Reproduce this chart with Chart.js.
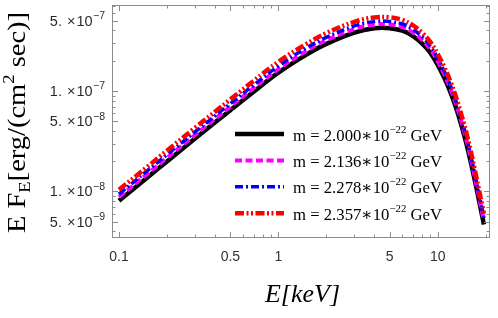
<!DOCTYPE html>
<html>
<head>
<meta charset="utf-8">
<script src="https://cdn.jsdelivr.net/npm/chart.js@4.4.1/dist/chart.umd.min.js"></script>
<style>
  html, body { margin: 0; padding: 0; background: #fff; }
</style>
</head>
<body>
<canvas id="spectrum" width="498" height="318"></canvas>
<script>
// photon energy grid (keV) and E*F_E for the four masses
const energyKeV = [0.1, 0.15, 0.2, 0.3, 0.5, 0.7, 1, 1.5, 2, 3, 4, 5, 6, 7, 8, 9, 10, 11, 12, 13, 14, 15, 16, 17, 18, 19, 19.5];
const fluxM2000 = [8.1e-9, 1.37e-8, 1.99e-8, 3.36e-8, 6.44e-8, 9.83e-8, 1.52e-7, 2.30e-7, 2.94e-7, 3.81e-7, 4.21e-7, 4.22e-7, 3.98e-7, 3.52e-7, 2.96e-7, 2.39e-7, 1.82e-7, 1.35e-7, 9.8e-8, 6.9e-8, 4.72e-8, 3.16e-8, 2.07e-8, 1.34e-8, 8.7e-9, 5.74e-9, 4.69e-9];
const fluxM2136 = [8.8e-9, 1.49e-8, 2.16e-8, 3.65e-8, 6.99e-8, 1.067e-7, 1.65e-7, 2.5e-7, 3.19e-7, 4.13e-7, 4.57e-7, 4.58e-7, 4.32e-7, 3.82e-7, 3.21e-7, 2.59e-7, 1.97e-7, 1.46e-7, 1.06e-7, 7.5e-8, 5.12e-8, 3.43e-8, 2.25e-8, 1.45e-8, 9.4e-9, 6.2e-9, 5.1e-9];
const fluxM2278 = [9.4e-9, 1.6e-8, 2.32e-8, 3.91e-8, 7.5e-8, 1.145e-7, 1.77e-7, 2.68e-7, 3.42e-7, 4.44e-7, 4.9e-7, 4.92e-7, 4.64e-7, 4.1e-7, 3.45e-7, 2.78e-7, 2.12e-7, 1.57e-7, 1.14e-7, 8.0e-8, 5.5e-8, 3.68e-8, 2.41e-8, 1.56e-8, 1.01e-8, 6.7e-9, 5.45e-9];
const fluxM2357 = [1.04e-8, 1.75e-8, 2.55e-8, 4.3e-8, 8.24e-8, 1.26e-7, 1.95e-7, 2.94e-7, 3.76e-7, 4.88e-7, 5.39e-7, 5.4e-7, 5.09e-7, 4.5e-7, 3.79e-7, 3.06e-7, 2.33e-7, 1.73e-7, 1.25e-7, 8.8e-8, 6.0e-8, 4.04e-8, 2.65e-8, 1.71e-8, 1.11e-8, 7.35e-9, 6.0e-9];
const massValues = ["2.000", "2.136", "2.278", "2.357"];

const xTickLabels = [0.1, 0.5, 1, 5, 10];
const xMinorTicks = [0.2, 0.3, 0.4, 0.6, 0.7, 0.8, 0.9, 2, 3, 4, 6, 7, 8, 9, 20];
const yTickLabels = [5e-9, 1e-8, 5e-8, 1e-7, 5e-7];
const yMinorTicks = [4e-9, 6e-9, 7e-9, 8e-9, 9e-9, 2e-8, 3e-8, 4e-8, 6e-8, 7e-8, 8e-8, 9e-8, 2e-7, 3e-7, 4e-7, 6e-7, 7e-7];

const seriesFlux = [fluxM2000, fluxM2136, fluxM2278, fluxM2357];
const seriesStyle = [
  { color: "#000000", width: 4.5, dash: [] },
  { color: "#ff00ff", width: 4, dash: [7, 3.5] },
  { color: "#0000ff", width: 3.5, dash: [8, 3, 2, 3] },
  { color: "#ff0000", width: 4.5, dash: [9, 2.5, 2, 2.5, 2, 2.5] }
];

const SERIF = "'Liberation Serif', 'DejaVu Serif', serif";
const SANS = "'Liberation Sans', Arial, sans-serif";

// draws pieces of text (sub/superscripts) along a line, squeezed to a target length
function drawRich(ctx, parts, x, y, angle, target) {
  ctx.save();
  ctx.translate(x, y);
  ctx.rotate(angle);
  let total = 0;
  parts.forEach(p => {
    ctx.font = `${p.italic ? "italic " : ""}${p.size}px ${p.family || SERIF}`;
    p.w = ctx.measureText(p.text).width + (p.gap || 0);
    total += p.w;
  });
  if (target) ctx.scale(target / total, 1);
  ctx.fillStyle = "#000";
  ctx.textBaseline = "alphabetic";
  let cx = 0;
  parts.forEach(p => {
    ctx.font = `${p.italic ? "italic " : ""}${p.size}px ${p.family || SERIF}`;
    ctx.fillText(p.text, cx, p.dy || 0);
    cx += p.w;
  });
  ctx.restore();
  return total;
}

function yLabelParts(v) {
  const exp = Math.floor(Math.log10(v) + 1e-9);
  const mant = Math.round(v / Math.pow(10, exp));
  return [
    { text: `${mant}.`, size: 14.5, family: SANS, gap: 5 },
    { text: "\u00D7", size: 14.5, family: SANS, gap: 1 },
    { text: "10", size: 14.5, family: SANS, gap: 0.5 },
    { text: `\u2212${Math.abs(exp)}`, size: 10.5, family: SANS, dy: -6.5 }
  ];
}

const framePlugin = {
  id: "frame",
  afterDraw(chart) {
    const { ctx, chartArea: a, scales: { x, y } } = chart;
    ctx.save();
    ctx.strokeStyle = "#8c8c8c";
    ctx.lineWidth = 1;
    ctx.setLineDash([]);
    ctx.strokeRect(a.left + 0.5, a.top + 0.5, a.right - a.left - 1, a.bottom - a.top - 1);
    ctx.beginPath();
    const xTick = (v, len) => {
      const px = Math.round(x.getPixelForValue(v)) + 0.5;
      ctx.moveTo(px, a.bottom); ctx.lineTo(px, a.bottom - len);
      ctx.moveTo(px, a.top); ctx.lineTo(px, a.top + len);
    };
    const yTick = (v, len) => {
      const py = Math.round(y.getPixelForValue(v)) + 0.5;
      ctx.moveTo(a.left, py); ctx.lineTo(a.left + len, py);
      ctx.moveTo(a.right, py); ctx.lineTo(a.right - len, py);
    };
    xTickLabels.forEach(v => xTick(v, 6));
    xMinorTicks.forEach(v => xTick(v, 3.5));
    yTickLabels.forEach(v => yTick(v, 6));
    yMinorTicks.forEach(v => yTick(v, 3.5));
    ctx.stroke();
    ctx.restore();

    // y tick labels with real superscripts, right aligned against the frame
    yTickLabels.forEach(v => {
      const parts = yLabelParts(v);
      ctx.save();
      let w = 0;
      parts.forEach(p => { ctx.font = `${p.size}px ${p.family}`; w += ctx.measureText(p.text).width + (p.gap || 0); });
      ctx.restore();
      ctx.save();
      ctx.globalAlpha = 0.85;
      drawRich(ctx, parts, a.left - 7 - w, y.getPixelForValue(v) + 5, 0);
      ctx.restore();
    });

    // axis titles
    drawRich(ctx, [
      { text: "E F", size: 26 },
      { text: "E", size: 17, dy: 5 },
      { text: "[erg/(cm", size: 26 },
      { text: "2", size: 17, dy: -11 },
      { text: " sec)]", size: 26 }
    ], 25, 233, -Math.PI / 2, 221);
    drawRich(ctx, [{ text: "E[keV]", size: 25, italic: true }], 265, 302, 0, 75);

    // legend
    seriesStyle.forEach((s, i) => {
      const ly = 134 + i * 26.4;
      ctx.save();
      ctx.strokeStyle = s.color;
      ctx.lineWidth = s.width;
      ctx.setLineDash(s.dash);
      ctx.beginPath();
      ctx.moveTo(235, ly);
      ctx.lineTo(284, ly);
      ctx.stroke();
      ctx.restore();
      drawRich(ctx, [
        { text: `m = ${massValues[i]}\u221710`, size: 17 },
        { text: "\u221222", size: 11, dy: -8 },
        { text: " GeV", size: 17 }
      ], 293, ly + 6.5, 0, 149);
    });
  }
};

new Chart(document.getElementById("spectrum"), {
  type: "line",
  data: {
    datasets: seriesFlux.map((flux, i) => ({
      label: `m = ${massValues[i]}*10^-22 GeV`,
      data: energyKeV.map((e, j) => ({ x: e, y: flux[j] })),
      borderColor: seriesStyle[i].color,
      borderWidth: seriesStyle[i].width,
      borderDash: seriesStyle[i].dash,
      pointRadius: 0,
      fill: false,
      tension: 0.4,
      order: seriesFlux.length - i
    }))
  },
  options: {
    responsive: false,
    devicePixelRatio: 1,
    animation: false,
    layout: { padding: { top: 5, right: 8, left: 0, bottom: 0 } },
    plugins: { legend: { display: false }, tooltip: { enabled: false } },
    scales: {
      x: {
        type: "logarithmic",
        min: 0.0904,
        max: 21.29,
        afterFit: s => { s.height = 80; },
        afterBuildTicks: s => { s.ticks = xTickLabels.map(v => ({ value: v })); },
        grid: { display: false, drawTicks: false },
        border: { display: false },
        ticks: {
          autoSkip: false,
          maxRotation: 0,
          padding: 11,
          color: "#333",
          font: { family: SANS, size: 14 },
          callback: v => String(v)
        }
      },
      y: {
        type: "logarithmic",
        min: 3.445e-9,
        max: 7.17e-7,
        afterFit: s => { s.width = 112; },
        afterBuildTicks: s => { s.ticks = yTickLabels.map(v => ({ value: v })); },
        grid: { display: false, drawTicks: false },
        border: { display: false },
        ticks: { display: false }
      }
    }
  },
  plugins: [framePlugin]
});
</script>
</body>
</html>
